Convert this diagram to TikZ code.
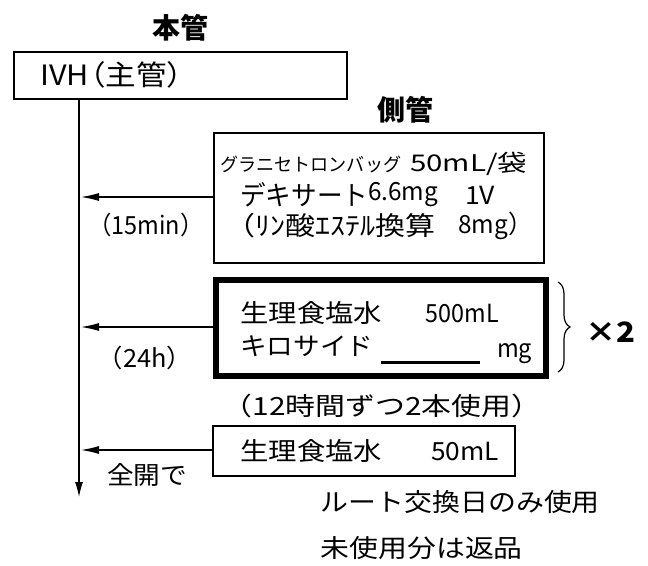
\documentclass[tikz,border=0pt]{standalone}
\usepackage{fontspec}
\setmainfont{Noto Sans CJK JP}
\usetikzlibrary{arrows.meta,decorations.pathreplacing}
\newcommand{\fitw}[2]{\resizebox{#1}{\height}{#2}}
\newcommand{\lpar}{\hspace*{-0.5em}（}
\newcommand{\rpar}{）\hspace*{-0.5em}}
\begin{document}
\begin{tikzpicture}[x=1pt,y=-1pt,
  txt/.style={inner sep=0pt,anchor=west,font=\fontsize{25}{29}\selectfont},
  ctxt/.style={inner sep=0pt,font=\fontsize{25}{29}\selectfont},
  ttl/.style={inner sep=0pt,font=\fontsize{28}{32}\selectfont\bfseries},
  boxthin/.style={draw,line width=2pt,inner sep=0pt},
  boxthick/.style={draw,line width=6pt,inner sep=0pt},
  arr/.style={line width=1.2pt,-{Latex[length=18pt,width=8pt]}},
  mainarr/.style={line width=1.2pt,-{Latex[length=15pt,width=8pt]}}]
\useasboundingbox (0,0) rectangle (648,565);
% titles
\node[ttl] (hon) at (180,27.5) {\fitw{56pt}{本管}};
\node[ttl] (soku) at (405,110) {\fitw{56pt}{側管}};
% boxes
\node[boxthin,minimum width=333pt,minimum height=47pt] (ivh) at (180.5,75.5) {};
\node[boxthin,minimum width=330pt,minimum height=130pt] (box1) at (379,198) {};
\node[boxthick,minimum width=330pt,minimum height=96pt] (box2) at (381,328) {};
\node[boxthin,minimum width=301.6pt,minimum height=50pt] (box3) at (363.8,451) {};
% texts
\node[txt,font=\fontsize{28}{32}\selectfont] (ivht) at (40,75) {\fitw{142pt}{IVH\hspace{-0.45em}（主管\rpar}};
\node[txt,font=\fontsize{18.5}{22}\selectfont] (g1) at (220,164) {\fitw{181pt}{グラニセトロンバッグ}};
\node[txt,font=\fontsize{23}{27}\selectfont] (g2) at (410,164) {\fitw{117pt}{50mL/袋}};
\node[txt,font=\fontsize{27}{31}\selectfont] (dx1) at (240,195) {\fitw{128pt}{デキサート}};
\node[txt] (dx2) at (368,195) {\fitw{70pt}{6.6mg}};
\node[txt] (dx3) at (465,195) {\fitw{30pt}{1V}};
\node[txt,font=\fontsize{26}{30}\selectfont] (ph1) at (240,226) {\fitw{195pt}{\lpar ﾘﾝ酸ｴｽﾃﾙ換算}};
\node[txt] (ph2) at (458,226) {\fitw{62pt}{8mg\rpar}};
\node[txt] (s1) at (240,313) {\fitw{142pt}{生理食塩水}};
\node[txt] (s2) at (425.6,313) {\fitw{73pt}{500mL}};
\node[txt] (k1) at (240,346) {\fitw{133pt}{キロサイド}};
\node[txt] (k2) at (497,354) {\fitw{35pt}{mg}};
\coordinate (ul1) at (380.6,362);
\coordinate (ul2) at (480,362);
\draw[line width=3pt] (ul1) -- (ul2);
\node[txt] (s3) at (240,451) {\fitw{142pt}{生理食塩水}};
\node[txt] (s4) at (431,451) {\fitw{67.7pt}{50mL}};
% labels
\node[ctxt] (l1) at (146,225) {\fitw{92pt}{\lpar 15min\rpar}};
\node[ctxt] (l2) at (145,358) {\fitw{69pt}{\lpar 24h\rpar}};
\node[ctxt] (l3) at (147,475) {\fitw{80pt}{全開で}};
\node[ctxt] (use) at (382,406) {\fitw{289pt}{\lpar 12時間ずつ2本使用\rpar}};
\node[txt] (n1) at (320.6,502) {\fitw{279pt}{ルート交換日のみ使用}};
\node[txt] (n2) at (320.6,548) {\fitw{202pt}{未使用分は返品}};
% brace
\coordinate (bt) at (558,282);
\coordinate (bb) at (558,372);
\draw[line width=1.2pt,decorate,decoration={brace,amplitude=12pt}] (bt) -- (bb);
\node[ttl,font=\fontsize{28}{32}\selectfont\bfseries] (x2) at (610,332) {\fitw{50pt}{×2}};
% main line
\coordinate (mend) at (79,497);
\draw[mainarr] (ivh.south -| mend) -- (mend);
% side arrows
\coordinate (t1) at (81,197);
\coordinate (t2) at (81,327);
\coordinate (t3) at (81,450);
\draw[arr] (t1 -| box1.west) -- (t1);
\draw[arr] (t2 -| box2.west) -- (t2);
\draw[arr] (t3 -| box3.west) -- (t3);
\end{tikzpicture}
\end{document}
